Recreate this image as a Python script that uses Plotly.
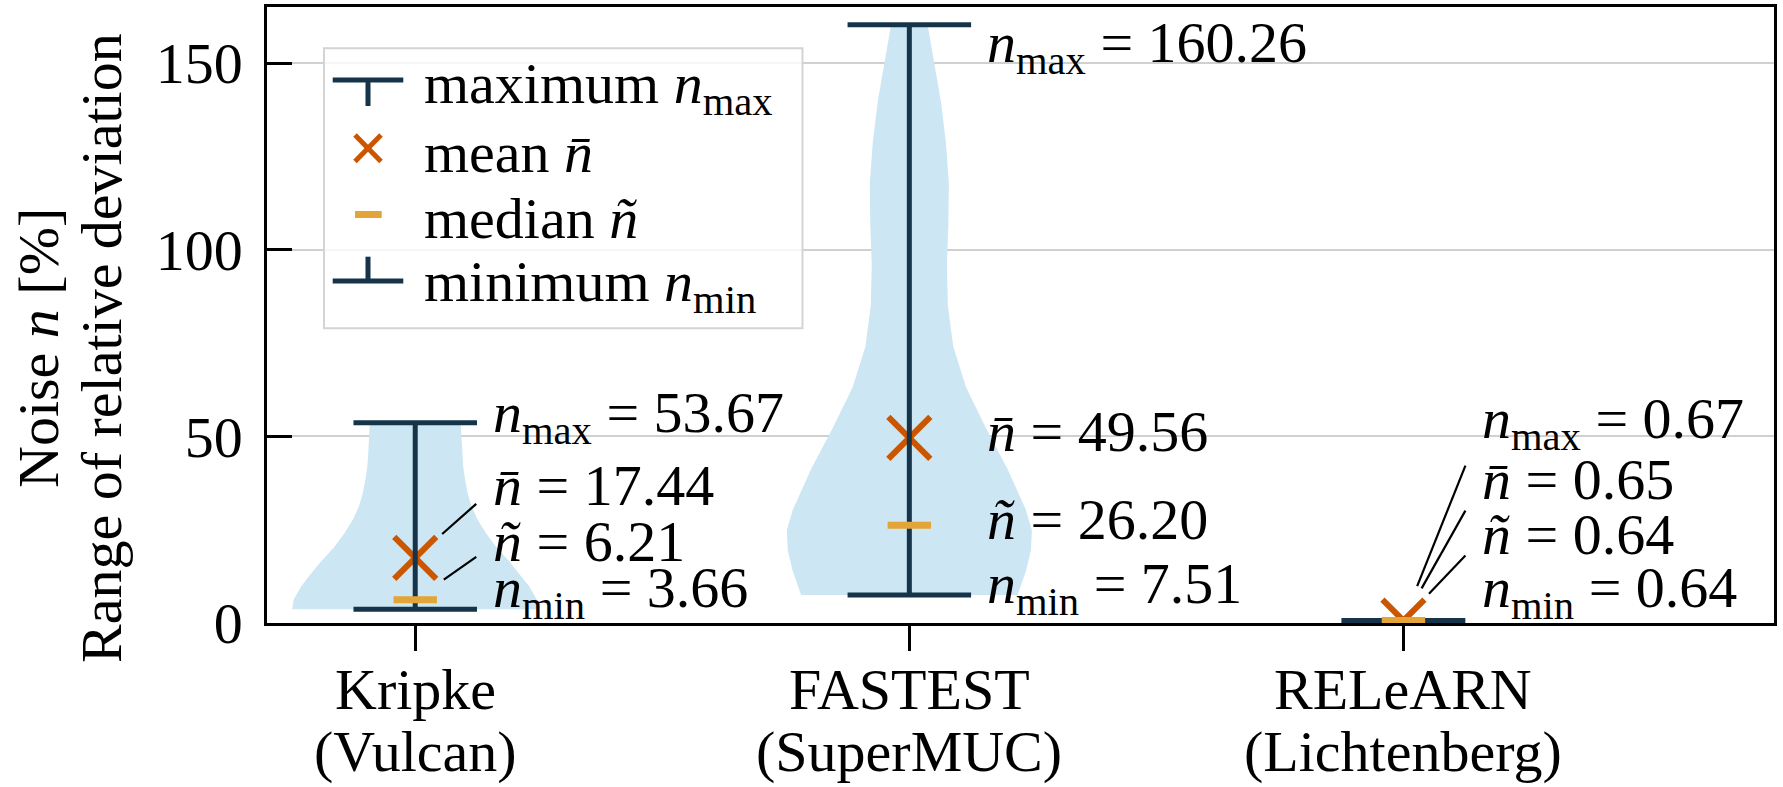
import math
import plotly.graph_objects as go

# ---------------- data ----------------
cat_names = ["Kripke", "FASTEST", "RELeARN"]
cat_systems = ["(Vulcan)", "(SuperMUC)", "(Lichtenberg)"]
cat_pos = [1, 2, 3]

n_max = [53.67, 160.26, 0.67]
n_mean = [17.44, 49.56, 0.65]
n_median = [6.21, 26.20, 0.64]
n_min = [3.66, 7.51, 0.64]

# violin density profiles (value, half-width in category units)
kripke_violin_y = [3.66, 6.24, 9.8, 13.4, 17.0, 20.5, 24.1, 27.7, 31.2, 34.8, 38.4, 41.9, 45.5, 49.1, 53.67]
kripke_violin_hw = [0.249, 0.246, 0.231, 0.21, 0.187, 0.163, 0.143, 0.126, 0.114, 0.106, 0.101, 0.097, 0.095, 0.094, 0.092]
fastest_violin_y = [7.51, 13.9, 19.4, 24.8, 30.3, 41.2, 52.2, 63.1, 74.0, 85.0, 95.9, 106.8, 117.8, 128.7, 139.6, 150.6, 160.26]
fastest_violin_hw = [0.219, 0.236, 0.246, 0.248, 0.236, 0.199, 0.155, 0.115, 0.089, 0.078, 0.076, 0.079, 0.080, 0.074, 0.064, 0.049, 0.037]
relearn_violin_y = [0.64, 0.67]
relearn_violin_hw = [0.25, 0.25]

violin_y = [kripke_violin_y, fastest_violin_y, relearn_violin_y]
violin_hw = [kripke_violin_hw, fastest_violin_hw, relearn_violin_hw]

y_ticks = [0, 50, 100, 150]

# ---------------- style ----------------
FONT = "Liberation Serif"
FS = 58
NAVY = "#15344a"
ORANGE = "#cc5500"
GOLD = "#e3a537"
VIOLIN = "#cce6f3"
GRID = "#d0d0d0"
CAP_HW = 0.125

L, R, T, B = 267, 1774, 7, 623
W, H = R - L, B - T


def px(xp):
    return (xp - L) / W


def py(yp):
    return (B - yp) / H


fig = go.Figure()

# violins
for c, ys, hws in zip(cat_pos, violin_y, violin_hw):
    xs = [c - h for h in hws] + [c + h for h in reversed(hws)]
    yy = list(ys) + list(reversed(ys))
    fig.add_trace(go.Scatter(x=xs, y=yy, fill="toself", fillcolor=VIOLIN,
                             mode="lines", line=dict(width=0, color=VIOLIN),
                             hoverinfo="skip", showlegend=False))

# mean markers
fig.add_trace(go.Scatter(x=cat_pos, y=n_mean, mode="markers",
                         marker=dict(symbol="x-thin", size=42, color=ORANGE,
                                     line=dict(width=6, color=ORANGE)),
                         showlegend=False))

# whiskers
wx, wy = [], []
for c, lo, hi in zip(cat_pos, n_min, n_max):
    wx += [c, c, None]
    wy += [lo, hi, None]
fig.add_trace(go.Scatter(x=wx, y=wy, mode="lines", line=dict(color=NAVY, width=5),
                         showlegend=False))
cx, cy = [], []
for c, lo, hi in zip(cat_pos, n_min, n_max):
    cx += [c - CAP_HW, c + CAP_HW, None, c - CAP_HW, c + CAP_HW, None]
    cy += [hi, hi, None, lo, lo, None]
fig.add_trace(go.Scatter(x=cx, y=cy, mode="lines", line=dict(color=NAVY, width=5),
                         showlegend=False))

# median markers
fig.add_trace(go.Scatter(x=cat_pos, y=n_median, mode="markers",
                         marker=dict(symbol="line-ew", size=31, color=GOLD,
                                     line=dict(width=7, color=GOLD)),
                         showlegend=False))

annotations = []
shapes = []
tfont = dict(family=FONT, size=FS, color="black")

# value labels
label_y = [[55.3, 36.9, 21.9, 8.5], [154.5, 51.3, 27.7, 9.4], [53.8, 38.4, 23.7, 8.5]]
LABEL_DX = 0.154
for i, c in enumerate(cat_pos):
    texts = [
        f"<i>n</i><sub>max</sub> = {n_max[i]:.2f}",
        f"<i>n\u0304</i> = {n_mean[i]:.2f}",
        f"<i>\u00f1</i> = {n_median[i]:.2f}",
        f"<i>n</i><sub>min</sub> = {n_min[i]:.2f}",
    ]
    for t, yv in zip(texts, label_y[i]):
        annotations.append(dict(x=c + LABEL_DX, y=yv, xref="x", yref="y", text=t,
                                showarrow=False, xanchor="left", yanchor="middle",
                                font=tfont))

# leader lines: anchored at the data point, tail offset (dx right, dy up) in pixels, gap near point
leaders = [
    (1, n_mean[0], 61, 54, 36),
    (1, n_median[0], 61, 43, 35),
    (3, n_mean[2], 62, 155, 37),
    (3, n_median[2], 62, 110, 37),
    (3, n_min[2], 62, 65, 37),
]
for c, v, dx, dy, gap in leaders:
    d = math.hypot(dx, dy)
    shapes.append(dict(type="line", xref="x", yref="y", xsizemode="pixel", ysizemode="pixel",
                       xanchor=c, yanchor=v, x0=dx * gap / d, y0=dy * gap / d, x1=dx, y1=dy,
                       line=dict(color="black", width=2.2), layer="above"))

# category labels (two lines each)
for c, n1, n2 in zip(cat_pos, cat_names, cat_systems):
    annotations.append(dict(x=c, y=py(689), xref="x", yref="paper", text=n1,
                            showarrow=False, xanchor="center", yanchor="middle", font=tfont))
    annotations.append(dict(x=c, y=py(751), xref="x", yref="paper", text=n2,
                            showarrow=False, xanchor="center", yanchor="middle", font=tfont))

# y-axis title (two lines)
annotations.append(dict(x=px(38), y=py(348), xref="paper", yref="paper",
                        text="Noise <i>n</i> [%]", textangle=-90, showarrow=False,
                        xanchor="center", yanchor="middle", font=tfont))
annotations.append(dict(x=px(101), y=py(348), xref="paper", yref="paper",
                        text="Range of relative deviation", textangle=-90, showarrow=False,
                        xanchor="center", yanchor="middle", font=tfont))

# legend (manual)
shapes.append(dict(type="rect", xref="paper", yref="paper", x0=px(324), x1=px(802.5),
                   y0=py(328.3), y1=py(48.3), fillcolor="rgba(255,255,255,0.8)",
                   line=dict(color="#d4d4d4", width=2), layer="above"))


def seg(x0, y0, x1, y1, color, w):
    shapes.append(dict(type="line", xref="paper", yref="paper", x0=px(x0), y0=py(y0),
                       x1=px(x1), y1=py(y1), line=dict(color=color, width=w), layer="above"))


# max icon (T)
seg(332.7, 80, 403.3, 80, NAVY, 5)
seg(368, 80, 368, 106, NAVY, 5)
# mean icon (x)
seg(355, 135, 381, 161.5, ORANGE, 5)
seg(355, 161.5, 381, 135, ORANGE, 5)
# median icon
seg(355, 214.5, 381.7, 214.5, GOLD, 7)
# min icon (inverted T)
seg(332.7, 281, 403.3, 281, NAVY, 5)
seg(368, 256.7, 368, 281, NAVY, 5)

legend_texts = ["maximum <i>n</i><sub>max</sub>", "mean <i>n\u0304</i>",
                "median <i>\u00f1</i>", "minimum <i>n</i><sub>min</sub>"]
legend_rows = [88, 152, 218.5, 285]
for t, yr in zip(legend_texts, legend_rows):
    annotations.append(dict(x=px(421.7), y=py(yr), xref="paper", yref="paper", text=t,
                            showarrow=False, xanchor="left", yanchor="middle", font=tfont))

fig.update_layout(
    width=1783, height=787,
    margin=dict(l=L, r=1783 - R, t=T, b=787 - B, autoexpand=False),
    paper_bgcolor="white", plot_bgcolor="white",
    font=dict(family=FONT, size=FS, color="black"),
    showlegend=False,
    annotations=annotations,
    shapes=shapes,
)
fig.update_xaxes(range=[0.7, 3.75], tickvals=cat_pos, showticklabels=False,
                 ticks="outside", ticklen=25, tickwidth=2.5, tickcolor="black",
                 showline=True, mirror=True, linecolor="black", linewidth=2.5,
                 showgrid=False, zeroline=False)
fig.update_yaxes(range=[0, 165], tickvals=y_ticks, ticktext=[str(v) for v in y_ticks],
                 ticks="inside", ticklen=25, tickwidth=2.5, tickcolor="black",
                 ticklabelstandoff=10,
                 showline=True, mirror=True, linecolor="black", linewidth=2.5,
                 showgrid=True, gridcolor=GRID, gridwidth=2, zeroline=False,
                 tickfont=dict(family=FONT, size=FS, color="black"))

fig.write_html("out.html")
